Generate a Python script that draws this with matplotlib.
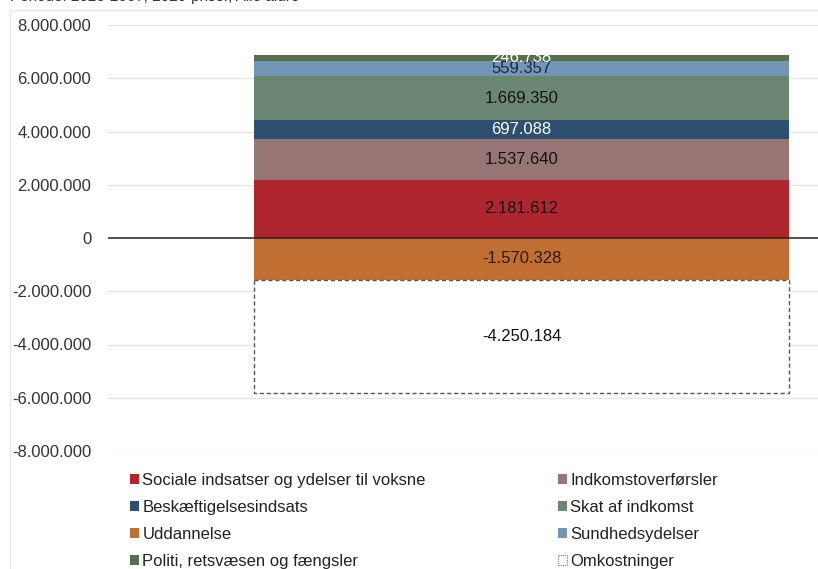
import matplotlib
matplotlib.use("Agg")
import matplotlib.pyplot as plt
from matplotlib.patches import Patch, Rectangle

categories = ["Sociale indsatser og ydelser til voksne", "Indkomstoverførsler",
              "Beskæftigelsesindsats", "Skat af indkomst", "Sundhedsydelser",
              "Politi, retsvæsen og fængsler"]
pos_values = [2181612, 1537640, 697088, 1669350, 559357, 246738]
pos_colors = ["#B0262F", "#967574", "#2D5070", "#6C8674", "#7395B6", "#56704E"]
pos_text = ["#111111", "#111111", "white", "#111111", "#1a2848", "white"]

neg_categories = ["Uddannelse", "Omkostninger"]
neg_values = [-1570328, -4250184]

yticks = [-8000000, -6000000, -4000000, -2000000, 0, 2000000, 4000000, 6000000, 8000000]

def fmt(v):
    s = f"{abs(int(v)):,}".replace(",", ".")
    return ("-" if v < 0 else "") + s

plt.rcParams['font.family'] = ['Liberation Sans', 'DejaVu Sans']

W, H = 818, 569
fig = plt.figure(figsize=(W/100, H/100), dpi=100)
fig.patches.append(Rectangle((10/W, -0.1), 1.2, 1 - 10/H + 0.1, transform=fig.transFigure,
                             facecolor="white", edgecolor="#e6e6e6", lw=1.0, zorder=-5))
fig.text(10/W, 1 - 1/H, "Periode: 2020-2067, 2020-priser, Alle aldre", fontsize=11,
         va="baseline", ha="left", color="#333333")

ax = fig.add_axes([108/W, 1 - 451/H, 1 - 108/W, (451 - 25)/H])
ax.set_facecolor("none")
ax.set_ylim(-8000000, 8000000)
ax.set_xlim(-0.773, 0.554)
ax.set_yticks(yticks)
ax.set_yticklabels([fmt(t) for t in yticks], fontsize=12, color="#333333")
ax.tick_params(axis="y", length=0, pad=12)
ax.set_xticks([])
for s in ax.spines.values():
    s.set_visible(False)
for t in yticks:
    if t != 0:
        ax.axhline(t, color="#e4e4e4", lw=0.9, zorder=0)

handles = {}
bottom = 0
for cat, v, c, tc in zip(categories, pos_values, pos_colors, pos_text):
    ax.bar(0, v, width=1, bottom=bottom, color=c, edgecolor="none", zorder=2)
    ax.text(0, bottom + v/2, fmt(v), ha="center", va="center", fontsize=12, color=tc, zorder=4)
    handles[cat] = Patch(facecolor=c, edgecolor="none")
    bottom += v

# negative stack
ax.bar(0, neg_values[0], width=1, bottom=0, color="#C06E32", edgecolor="none", zorder=2)
ax.text(0, neg_values[0]/2, fmt(neg_values[0]), ha="center", va="center", fontsize=12,
        color="#2a1a10", zorder=4)
handles["Uddannelse"] = Patch(facecolor="#C06E32", edgecolor="none")
ax.bar(0, neg_values[1], width=1, bottom=neg_values[0], color="white", edgecolor="#555555",
       linestyle=(0, (3, 2)), lw=1.0, zorder=2)
ax.text(0, neg_values[0] + neg_values[1]/2, fmt(neg_values[1]), ha="center", va="center",
        fontsize=12, color="#111111", zorder=4)
handles["Omkostninger"] = Patch(facecolor="white", edgecolor="#777777", linestyle=(0, (1, 1)), lw=0.8)

ax.axhline(0, color="#222222", lw=1.1, zorder=3)

order = ["Sociale indsatser og ydelser til voksne", "Beskæftigelsesindsats", "Uddannelse",
         "Politi, retsvæsen og fængsler", "Indkomstoverførsler", "Skat af indkomst",
         "Sundhedsydelser", "Omkostninger"]
leg = fig.legend([handles[k] for k in order], order, ncol=2, loc="upper left",
                 bbox_to_anchor=(130/W, 1 - 473/H), frameon=False, fontsize=12,
                 handlelength=0.55, handleheight=0.6, handletextpad=0.2,
                 columnspacing=7.9, labelspacing=0.72, borderaxespad=0, borderpad=0)
for t in leg.get_texts():
    t.set_color("#222222")

fig.savefig("out.png", dpi=100)
